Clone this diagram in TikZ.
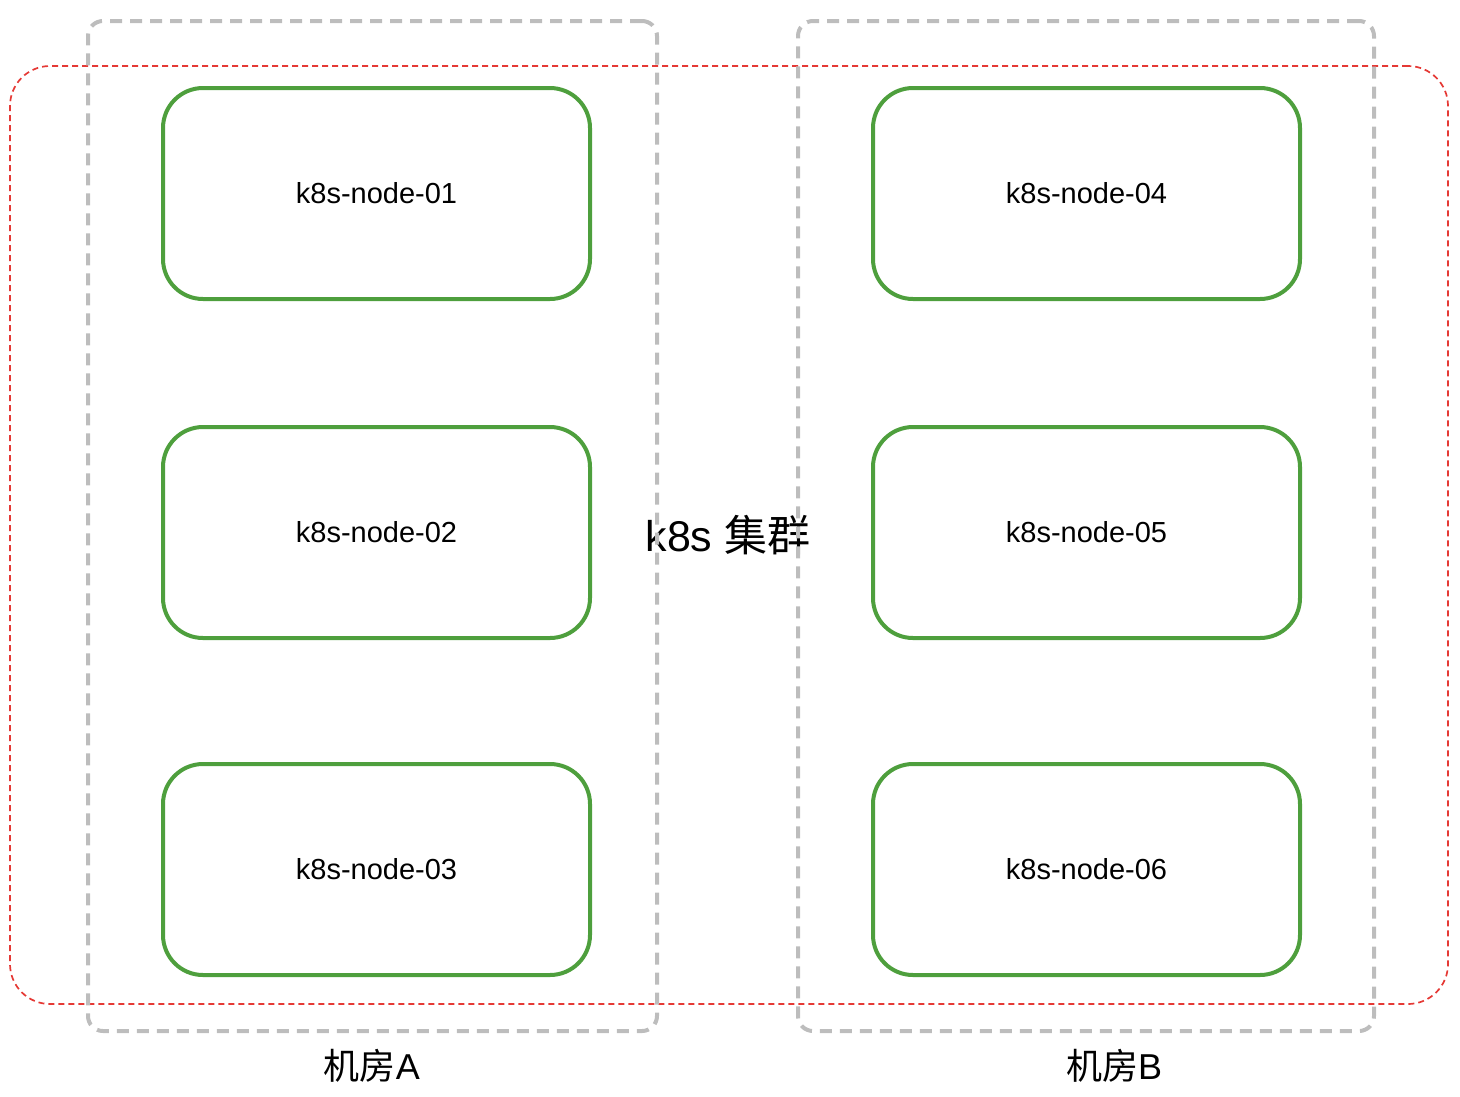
\documentclass[tikz,border=0pt]{standalone}
\usepackage{fontspec}
\setmainfont{Liberation Sans}
\newfontfamily\cjk{Noto Sans CJK SC}
\definecolor{nodegreen}{HTML}{4E9F3D}
\definecolor{roomgray}{HTML}{BDBDBD}
\definecolor{clusterred}{HTML}{E53935}
\begin{document}
\begin{tikzpicture}[x=1pt,y=-1pt,
  k8snode/.style={draw=nodegreen, line width=4pt, rounded corners=40pt,
    minimum width=427pt, minimum height=211pt, inner sep=0pt,
    font=\fontsize{29}{33}\selectfont},
  room/.style={draw=roomgray, line width=4pt, rounded corners=15pt,
    dash pattern=on 12pt off 8pt, inner sep=0pt},
  cluster/.style={draw=clusterred, line width=1.7pt, rounded corners=40pt,
    dash pattern=on 6pt off 4pt, inner sep=0pt},
  roomlabel/.style={font=\fontsize{36}{40}\selectfont},
]
\useasboundingbox (0,0) rectangle (1460,1096);
% cluster
\node[cluster, minimum width=1438pt, minimum height=938pt] (cl) at (729,535) {};
\node[font=\fontsize{43}{47}\selectfont] (cllabel) at (728,535) {k8s {\cjk 集群}};
% rooms
\node[room, minimum width=569pt, minimum height=1010pt] (roomA) at (372.5,526) {};
\node[room, minimum width=576pt, minimum height=1010pt] (roomB) at (1086,526) {};
\node[roomlabel] (labA) at (372,1066) {{\cjk 机房}A};
\node[roomlabel] (labB) at (1114,1066) {{\cjk 机房}B};
% k8s nodes
\node[k8snode] (n1) at (376.5,193.5) {k8s-node-01};
\node[k8snode] (n2) at (376.5,532.5) {k8s-node-02};
\node[k8snode] (n3) at (376.5,869.5) {k8s-node-03};
\node[k8snode] (n4) at (1086.5,193.5) {k8s-node-04};
\node[k8snode] (n5) at (1086.5,532.5) {k8s-node-05};
\node[k8snode] (n6) at (1086.5,869.5) {k8s-node-06};
\end{tikzpicture}
\end{document}
